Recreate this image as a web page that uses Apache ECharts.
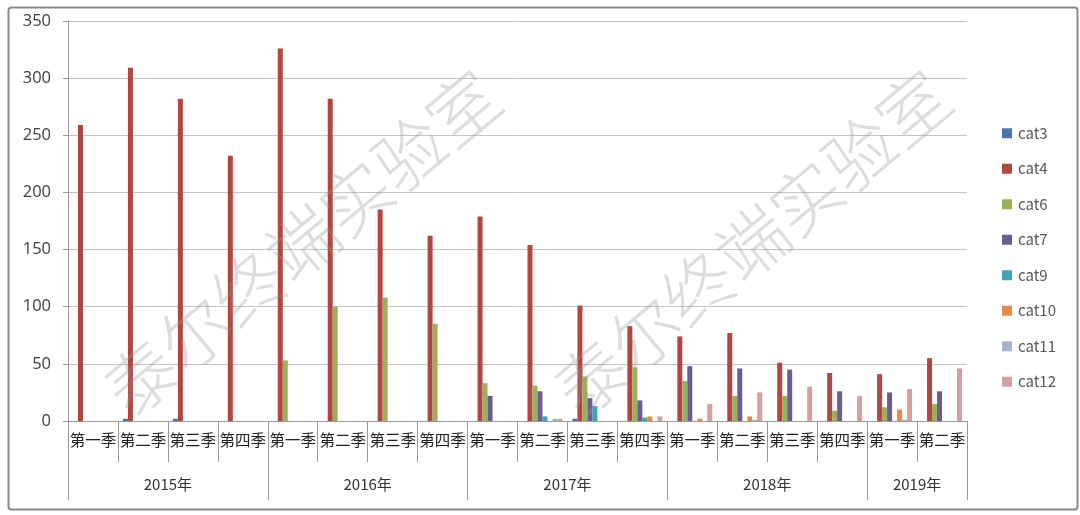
<!DOCTYPE html>
<html>
<head>
<meta charset="utf-8">
<script src="https://cdn.jsdelivr.net/npm/echarts@6/dist/echarts.min.js"></script>
<style>
html,body{margin:0;padding:0;background:#fff;}
#c{width:1080px;height:515px;}
</style>
</head>
<body>
<div id="c"></div>
<script>
const years = ['2015年','2016年','2017年','2018年','2019年'];
const quartersPerYear = [4,4,4,4,2];
const quarterNames = ['第一季','第二季','第三季','第四季'];
const seriesNames = ['cat3','cat4','cat6','cat7','cat9','cat10','cat11','cat12'];
const cat3  = [0,2,2,0, 0,0,0,0, 0,0,2,0, 0,0,0,0, 0,0];
const cat4  = [259,309,282,232, 326,282,185,162, 179,154,101,83, 74,77,51,42, 41,55];
const cat6  = [0,0,0,0, 53,100,108,85, 33,31,39,47, 35,22,22,9, 12,15];
const cat7  = [0,0,0,0, 0,0,0,0, 22,26,20,18, 48,46,45,26, 25,26];
const cat9  = [0,0,0,0, 0,0,0,0, 0,4,13,3, 0,0,0,0, 0,0];
const cat10 = [0,0,0,0, 0,0,0,0, 0,0,0,4, 2,4,0,0, 10,0];
const cat11 = [0,0,0,0, 0,0,0,0, 0,2,0,0, 0,1,0,0, 1,0];
const cat12 = [0,0,0,0, 0,0,0,0, 0,2,0,4, 15,25,30,22, 28,46];
const yTicks = {min:0, max:350, interval:50};

const seriesData = [cat3,cat4,cat6,cat7,cat9,cat10,cat11,cat12];
const colors = ['#4A74AA','#B5453F','#9BB05A','#6C5C94','#3FA4B9','#E58B45','#A3B6CA','#D6A0A0'];

const quarterCats = [];
const yearCats = [];
const groupStart = {};
const yearLabelIdx = {};
let idx = 0;
years.forEach((y, yi) => {
  const n = quartersPerYear[yi];
  groupStart[idx] = true;
  yearLabelIdx[idx + Math.floor(n/2) - 1] = y;
  for (let q = 0; q < n; q++) {
    quarterCats.push(quarterNames[q]);
    yearCats.push(y);
    idx++;
  }
});

const font = '"Noto Sans CJK SC","Noto Sans",sans-serif';
const chart = echarts.init(document.getElementById('c'), null, {renderer:'canvas'});

chart.setOption({
  animation:false,
  backgroundColor:'#fff',
  color: colors,
  textStyle:{fontFamily:font},
  grid:{left:68, right:113, top:21, bottom:94, containLabel:false},
  legend:{
    orient:'vertical',
    left:997, top:'middle',
    itemWidth:10, itemHeight:10, itemGap:19.5,
    icon:'rect',
    data: seriesNames,
    textStyle:{fontSize:15, color:'#595959', lineHeight:16, fontFamily:font, padding:[0,0,0,1]}
  },
  xAxis:[{
    type:'category', position:'bottom',
    data: quarterCats,
    axisLine:{show:true, lineStyle:{color:'#9a9a9a', width:1}},
    axisTick:{show:true, interval:0, length:41, lineStyle:{color:'#9a9a9a'}},
    axisLabel:{interval:0, margin:11, fontSize:15.5, color:'#222', fontFamily:font},
    splitLine:{show:false}
  },{
    type:'category', position:'bottom',
    data: yearCats,
    axisLine:{show:true, lineStyle:{color:'#9a9a9a', width:1}},
    axisTick:{show:true, length:79, lineStyle:{color:'#9a9a9a'},
      interval:function(i){ return !!groupStart[i]; }},
    axisLabel:{
      margin:56, fontSize:15, color:'#333', fontFamily:font,
      interval:function(i){ return yearLabelIdx[i] !== undefined; },
      formatter:function(v){ return '{y|' + v + '}'; },
      rich:{y:{padding:[0,0,0,50], fontSize:15, color:'#333', fontFamily:font}}
    },
    splitLine:{show:false}
  }],
  yAxis:{
    type:'value', min:yTicks.min, max:yTicks.max, interval:yTicks.interval,
    axisLine:{show:true, lineStyle:{color:'#9a9a9a'}},
    axisTick:{show:true, length:5, lineStyle:{color:'#9a9a9a'}},
    axisLabel:{fontSize:16.5, color:'#404040', margin:17, fontFamily:'"Open Sans","Noto Sans",sans-serif'},
    splitLine:{show:true, lineStyle:{color:'#c4c4c4', width:1}}
  },
  series: seriesNames.map((n, i) => ({
    name:n, type:'bar', xAxisIndex:0,
    data: seriesData[i],
    barGap:'0%', barCategoryGap:'20%',
    itemStyle:{color:colors[i]}
  })),
  graphic:[
    {type:'rect', left:6, top:5, z:-10, silent:true,
     shape:{width:1069, height:502, r:3},
     style:{fill:'none', stroke:'#8a8a8a', lineWidth:2}},
    {type:'text', x:302, y:243, rotation:0.697, z:100, silent:true,
     style:{text:'泰尔终端实验室', fontSize:70, fontWeight:300, fontFamily:font, fill:'rgba(150,150,150,0.32)', align:'center', verticalAlign:'middle'}},
    {type:'text', x:752, y:243, rotation:0.697, z:100, silent:true,
     style:{text:'泰尔终端实验室', fontSize:70, fontWeight:300, fontFamily:font, fill:'rgba(150,150,150,0.32)', align:'center', verticalAlign:'middle'}}
  ]
});
</script>
</body>
</html>
